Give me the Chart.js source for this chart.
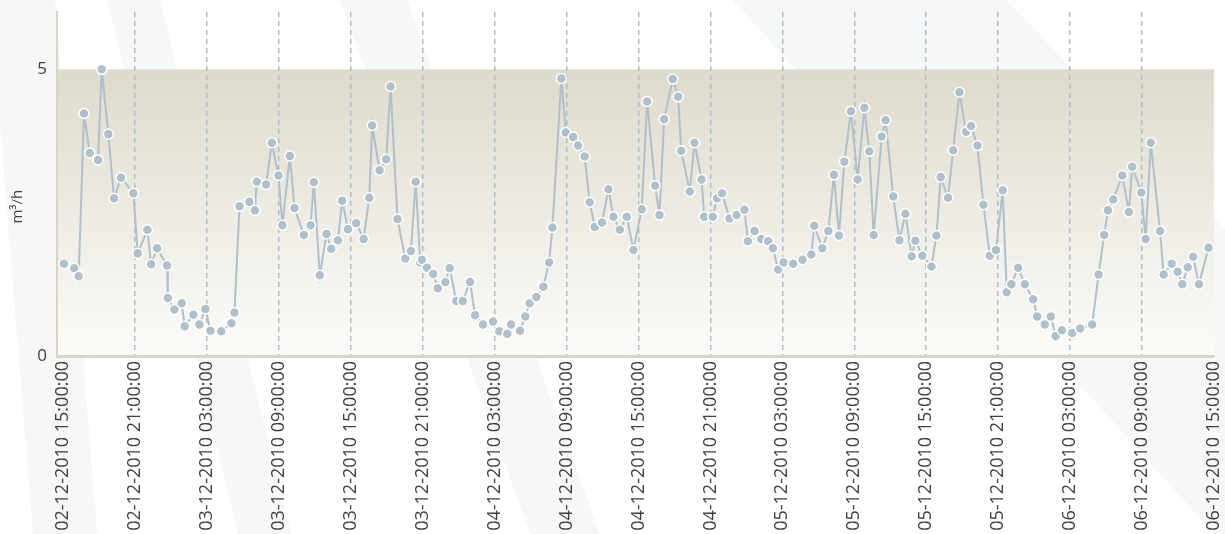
<!DOCTYPE html>
<html>
<head>
<meta charset="utf-8">
<script src="https://cdn.jsdelivr.net/npm/chart.js@4"></script>
<style>
  html, body { margin: 0; padding: 0; background: #fff; }
  #wrap { width: 1225px; height: 534px; position: relative; }
</style>
</head>
<body>
<div id="wrap"><canvas id="flowChart"></canvas></div>
<script>
// ── Data ──────────────────────────────────────────────────────────
// hours since 02-12-2010 15:00:00
const HOURS = [
  0.08, 0.94, 1.31, 1.75, 2.23, 2.92, 3.23, 3.78, 4.26, 4.84, 5.87, 6.23, 7.04, 7.35, 7.85, 8.68, 8.74,
  9.29, 9.90, 10.15, 10.88, 11.38, 11.88, 12.30, 13.20, 14.05, 14.30, 14.72, 15.55, 16.00, 16.17, 16.94,
  17.42, 17.97, 18.30, 18.92, 19.31, 20.09, 20.65, 20.92, 21.42, 21.98, 22.37, 22.93, 23.29, 23.76, 24.46,
  25.07, 25.54, 25.79, 26.40, 26.96, 27.32, 27.90, 28.55, 29.02, 29.41, 29.80, 29.94, 30.36, 30.88, 31.27,
  31.89, 32.25, 32.80, 33.34, 33.95, 34.37, 35.03, 35.87, 36.39, 37.06, 37.37, 38.12, 38.56, 38.92, 39.48,
  40.07, 40.54, 40.82, 41.57, 41.93, 42.55, 42.96, 43.51, 43.93, 44.35, 44.96, 45.49, 45.91, 46.44, 47.02,
  47.58, 48.27, 48.72, 49.39, 49.75, 50.14, 50.86, 51.31, 51.56, 52.28, 52.67, 53.26, 53.48, 54.20, 54.56,
  54.97, 55.59, 56.18, 56.84, 57.12, 57.68, 58.24, 58.82, 59.21, 59.65, 60.10, 60.90, 61.68, 62.41, 62.66,
  63.33, 63.83, 64.30, 64.72, 65.17, 65.72, 66.28, 66.84, 67.25, 67.61, 68.28, 68.61, 69.25, 69.76, 70.26,
  70.78, 71.09, 71.68, 72.43, 72.85, 73.21, 73.82, 74.24, 74.77, 75.32, 75.74, 76.27, 76.77, 77.30, 77.82,
  78.38, 78.71, 79.10, 79.66, 80.22, 80.92, 81.25, 81.89, 82.39, 82.80, 83.31, 84.17, 84.84, 85.84, 86.37,
  86.84, 87.15, 87.60, 88.35, 88.91, 89.18, 89.94, 90.30, 90.72, 91.50, 91.80, 92.47, 92.97, 93.36, 93.81,
  94.26, 94.74, 95.54
];
// m³/h
const FLOW = [
  1.61, 1.53, 1.39, 4.23, 3.54, 3.42, 5.00, 3.87, 2.75, 3.11, 2.84, 1.79, 2.20, 1.60, 1.88, 1.58, 1.01,
  0.81, 0.92, 0.52, 0.72, 0.55, 0.82, 0.44, 0.43, 0.57, 0.76, 2.61, 2.69, 2.54, 3.04, 2.99,
  3.72, 3.15, 2.28, 3.49, 2.58, 2.11, 2.28, 3.03, 1.41, 2.13, 1.87, 2.02, 2.71, 2.21, 2.32,
  2.04, 2.76, 4.02, 3.24, 3.43, 4.70, 2.39, 1.70, 1.83, 3.04, 1.63, 1.68, 1.54, 1.43, 1.18,
  1.29, 1.53, 0.96, 0.96, 1.29, 0.71, 0.55, 0.60, 0.43, 0.39, 0.55, 0.44, 0.69, 0.92, 1.03,
  1.21, 1.63, 2.24, 4.84, 3.90, 3.82, 3.67, 3.48, 2.68, 2.25, 2.33, 2.91, 2.43, 2.20, 2.43,
  1.85, 2.56, 4.44, 2.97, 2.46, 4.13, 4.83, 4.52, 3.58, 2.87, 3.72, 3.08, 2.43, 2.43, 2.75,
  2.84, 2.40, 2.46, 2.55, 2.00, 2.18, 2.04, 2.00, 1.88, 1.51, 1.63, 1.61, 1.68, 1.77, 2.27,
  1.88, 2.18, 3.16, 2.10, 3.39, 4.27, 3.08, 4.33, 3.57, 2.11, 3.83, 4.11, 2.78, 2.02, 2.48,
  1.74, 2.01, 1.75, 1.56, 2.10, 3.12, 2.76, 3.59, 4.60, 3.91, 4.01, 3.67, 2.64, 1.75, 1.85,
  2.89, 1.11, 1.25, 1.54, 1.25, 0.99, 0.69, 0.55, 0.69, 0.35, 0.45, 0.40, 0.48, 0.55, 1.42,
  2.11, 2.54, 2.73, 3.15, 2.51, 3.30, 2.85, 2.04, 3.72, 2.18, 1.42, 1.61, 1.47, 1.25, 1.55,
  1.73, 1.25, 1.89
];

const TICK_HOURS  = [0, 6, 12, 18, 24, 30, 36, 42, 48, 54, 60, 66, 72, 78, 84, 90, 96];
const TICK_LABELS = [
  '02-12-2010 15:00:00', '02-12-2010 21:00:00', '03-12-2010 03:00:00', '03-12-2010 09:00:00',
  '03-12-2010 15:00:00', '03-12-2010 21:00:00', '04-12-2010 03:00:00', '04-12-2010 09:00:00',
  '04-12-2010 15:00:00', '04-12-2010 21:00:00', '05-12-2010 03:00:00', '05-12-2010 09:00:00',
  '05-12-2010 15:00:00', '05-12-2010 21:00:00', '06-12-2010 03:00:00', '06-12-2010 09:00:00',
  '06-12-2010 15:00:00'
];
const Y_TICKS = [0, 5];
const BAND = [0, 5];          // shaded range on the value axis
const Y_TITLE = 'm³/h';

const FONT = "'Open Sans', sans-serif";
const TEXT = '#404040';

// ── Background: faint diagonal stripes + shaded band ──────────────
const backdrop = {
  id: 'backdrop',
  beforeDraw(chart) {
    const { ctx, chartArea: a, scales: { y } } = chart;
    ctx.save();
    ctx.fillStyle = '#f6f7f8';
    const stripes = [
      [[-10, 0], [55, 0], [97, 534], [33, 534]],
      [[107, 0], [160, 0], [291, 534], [238, 534]],
      [[340, 0], [407, 0], [600, 534], [530, 534]],
      [[733, 0], [1007, 0], [1514, 534], [1214, 534]],
    ];
    stripes.forEach(p => {
      ctx.beginPath();
      ctx.moveTo(p[0][0], p[0][1]);
      p.slice(1).forEach(q => ctx.lineTo(q[0], q[1]));
      ctx.closePath();
      ctx.fill();
    });
    const top = y.getPixelForValue(BAND[1]);
    const bot = y.getPixelForValue(BAND[0]);
    const g = ctx.createLinearGradient(0, top, 0, bot);
    g.addColorStop(0, '#dedbcc');
    g.addColorStop(1, '#fcfbf9');
    ctx.fillStyle = g;
    ctx.fillRect(a.left, top, a.right - a.left, bot - top);

    // axis title
    ctx.translate(18, (top + bot) / 2 - 6);
    ctx.rotate(-Math.PI / 2);
    ctx.fillStyle = TEXT;
    ctx.font = `15px ${FONT}`;
    ctx.textAlign = 'center';
    ctx.textBaseline = 'middle';
    ctx.fillText(Y_TITLE, 0, 0);
    ctx.restore();
  }
};

// ── Chart ─────────────────────────────────────────────────────────
const points = HOURS.map((h, i) => ({ x: h, y: FLOW[i] }));
const lastTick = TICK_HOURS.length - 1;

new Chart(document.getElementById('flowChart'), {
  type: 'line',
  data: {
    datasets: [{
      data: points,
      borderColor: '#b0c0ca',
      borderWidth: 2,
      pointBackgroundColor: '#b0c0ca',
      pointBorderColor: '#ffffff',
      pointBorderWidth: 1.5,
      pointRadius: 5,
      tension: 0,
      fill: false,
    }]
  },
  options: {
    responsive: true,
    maintainAspectRatio: false,
    animation: false,
    layout: { padding: { top: 12, right: 11, left: 0, bottom: 0 } },
    plugins: { legend: { display: false }, tooltip: { enabled: false } },
    scales: {
      x: {
        type: 'linear',
        min: -0.5,
        max: 96,
        afterBuildTicks: s => { s.ticks = TICK_HOURS.map(v => ({ value: v })); },
        afterFit: s => { s.height = 178; s.paddingLeft = 0; s.paddingRight = 0; },
        ticks: {
          autoSkip: false,
          minRotation: 90,
          maxRotation: 90,
          padding: 5,
          color: TEXT,
          font: { family: FONT, size: 18 },
          callback: (v, i) => TICK_LABELS[i],
        },
        grid: {
          drawTicks: false,
          color: c => (c.index === 0 || c.index === lastTick) ? 'rgba(0,0,0,0)' : '#aebdc7',
          lineWidth: 1.5,
        },
        border: { display: true, color: '#d9d5c3', width: 3, dash: [5, 4] },
      },
      y: {
        min: 0,
        max: 6,
        afterBuildTicks: s => { s.ticks = Y_TICKS.map(v => ({ value: v })); },
        afterFit: s => { s.width = 57; s.paddingTop = 0; s.paddingBottom = 0; },
        ticks: { padding: 10, color: TEXT, font: { family: FONT, size: 17 } },
        grid: { display: false, drawTicks: false },
        border: { display: true, color: '#d9d5c3', width: 2 },
      }
    }
  },
  plugins: [backdrop]
});
</script>
</body>
</html>
